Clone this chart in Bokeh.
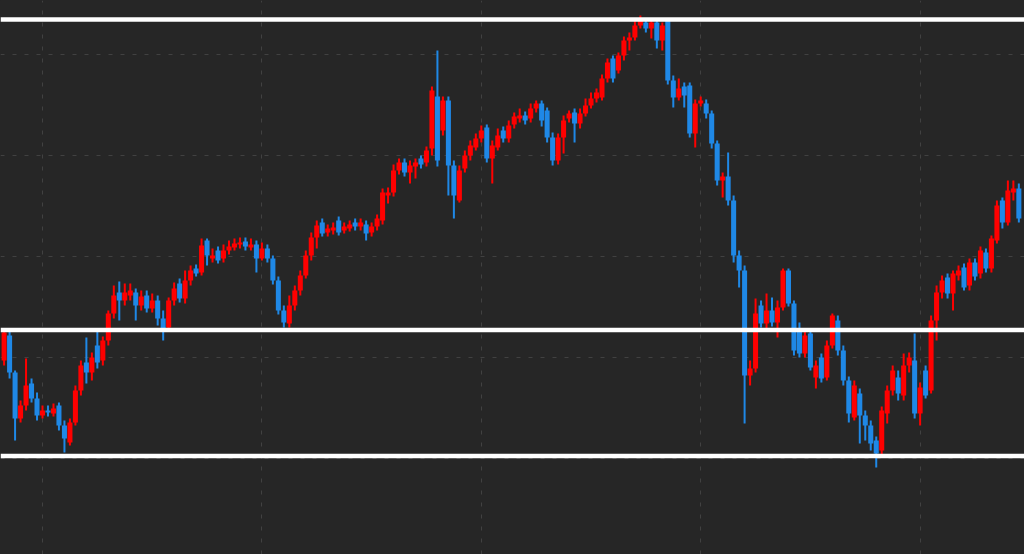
from bokeh.plotting import figure
from bokeh.models import ColumnDataSource, Range1d, FixedTicker, Span, GlobalInlineStyleSheet
from bokeh.embed import file_html
from bokeh.resources import INLINE

# bar index (x) and OHLC values (price points)
bar_index = list(range(-7, 179))

open_ = [194, 219, 182, 136, 149, 171, 156, 139, 144, 141, 149, 129, 112, 132, 164, 192, 182, 209, 194, 214,
         241, 262, 254, 259, 262, 249, 259, 246, 254, 236, 227, 254, 271, 256, 274, 286, 282, 314, 296, 304,
         296, 304, 307, 310, 313, 307, 310, 296, 306, 296, 274, 244, 231, 249, 264, 279, 299, 317, 332, 322,
         324, 334, 324, 326, 332, 328, 330, 322, 328, 334, 359, 362, 384, 392, 382, 388, 396, 392, 406, 458,
         424, 454, 389, 354, 386, 399, 407, 416, 427, 396, 407, 424, 416, 430, 436, 439, 436, 446, 451, 444,
         417, 394, 417, 436, 442, 431, 441, 449, 456, 457, 476, 496, 484, 499, 514, 517, 529, 532, 526, 532,
         514, 534, 474, 457, 468, 469, 421, 451, 451, 441, 411, 374, 378, 354, 299, 284, 179, 186, 249, 231,
         244, 232, 247, 284, 251, 226, 201, 221, 177, 197, 177, 209, 234, 204, 174, 137, 161, 139, 129, 114,
         104, 141, 164, 177, 159, 189, 194, 141, 184, 164, 234, 262, 277, 261, 279, 287, 269, 292, 281, 302,
         286, 314, 354, 332, 362, 366]
high = [226, 224, 184, 154, 196, 176, 162, 149, 149, 151, 152, 134, 136, 169, 194, 217, 202, 224, 218, 244,
        269, 273, 271, 271, 266, 264, 264, 261, 259, 244, 257, 272, 276, 284, 289, 290, 316, 316, 306, 308,
        310, 314, 316, 317, 317, 316, 314, 312, 310, 299, 278, 249, 259, 269, 284, 304, 322, 334, 336, 330,
        332, 338, 332, 334, 336, 336, 334, 332, 340, 366, 367, 390, 396, 396, 394, 396, 399, 408, 468, 504,
        458, 458, 394, 389, 404, 414, 421, 429, 430, 414, 426, 428, 434, 442, 446, 443, 451, 454, 454, 447,
        422, 421, 439, 444, 446, 446, 456, 462, 466, 480, 496, 499, 502, 518, 522, 534, 539, 536, 536, 536,
        532, 536, 479, 476, 472, 472, 455, 458, 455, 444, 414, 382, 402, 359, 304, 289, 194, 256, 254, 261,
        257, 254, 286, 286, 254, 232, 224, 226, 194, 201, 214, 241, 239, 209, 178, 174, 166, 144, 134, 118,
        148, 169, 189, 184, 201, 202, 221, 172, 189, 239, 269, 279, 281, 284, 289, 291, 296, 296, 308, 306,
        319, 354, 357, 374, 374, 371]
low = [189, 176, 114, 132, 144, 152, 134, 136, 138, 138, 124, 102, 109, 129, 159, 171, 174, 186, 189, 209,
       236, 234, 249, 254, 234, 244, 242, 242, 229, 214, 224, 249, 252, 251, 269, 278, 279, 289, 292, 291,
       292, 300, 304, 306, 304, 304, 282, 294, 292, 270, 240, 227, 227, 244, 259, 276, 294, 306, 318, 318,
       320, 319, 321, 323, 324, 324, 314, 318, 324, 330, 351, 358, 380, 378, 371, 376, 386, 388, 399, 388,
       419, 359, 336, 352, 382, 394, 404, 412, 392, 371, 404, 412, 412, 426, 432, 430, 432, 442, 428, 412,
       389, 390, 401, 432, 412, 426, 438, 446, 452, 454, 472, 472, 481, 494, 504, 514, 526, 522, 516, 506,
       504, 470, 447, 454, 447, 417, 407, 448, 436, 406, 369, 357, 349, 292, 267, 131, 169, 182, 227, 226,
       228, 217, 244, 248, 199, 197, 197, 184, 166, 172, 174, 206, 199, 169, 132, 134, 111, 114, 104, 87,
       99, 131, 159, 154, 154, 182, 136, 129, 156, 161, 214, 256, 256, 244, 274, 264, 264, 274, 276, 282,
       282, 311, 326, 329, 354, 332]
close = [222, 182, 136, 149, 169, 156, 139, 144, 142, 146, 129, 116, 132, 164, 189, 182, 197, 192, 214, 241,
         259, 254, 262, 264, 249, 258, 246, 254, 236, 224, 254, 266, 256, 274, 284, 281, 309, 299, 299, 294,
         304, 308, 311, 312, 308, 310, 296, 306, 296, 274, 244, 232, 249, 264, 279, 299, 317, 329, 321, 326,
         327, 322, 328, 330, 328, 332, 321, 328, 336, 362, 362, 384, 392, 382, 389, 392, 390, 404, 464, 394,
         454, 389, 359, 384, 399, 409, 416, 424, 396, 409, 419, 416, 429, 438, 439, 434, 446, 451, 434, 417,
         394, 417, 434, 441, 431, 441, 449, 456, 462, 476, 492, 476, 499, 514, 517, 529, 534, 526, 532, 514,
         529, 474, 457, 466, 459, 421, 451, 454, 441, 411, 374, 378, 354, 299, 284, 179, 186, 241, 231, 244,
         232, 247, 284, 251, 204, 201, 219, 187, 189, 176, 209, 239, 204, 174, 141, 169, 139, 129, 111, 101,
         144, 164, 184, 161, 189, 197, 141, 167, 159, 234, 262, 274, 261, 281, 284, 267, 292, 278, 304, 286,
         316, 349, 332, 364, 366, 336]

# horizontal level lines (price points)
levels = [535, 224.5, 98.5]

UP = "#ff0000"
DOWN = "#1f88e6"
colors = [UP if c >= o else DOWN for o, c in zip(open_, close)]
src = ColumnDataSource(dict(
    x=bar_index, open=open_, high=high, low=low, close=close,
    top=[max(o, c) for o, c in zip(open_, close)],
    bottom=[min(o, c) for o, c in zip(open_, close)],
    color=colors,
))

p = figure(width=1024, height=554, output_backend="svg", toolbar_location=None,
           x_range=Range1d(-7.657, 179.03), y_range=Range1d(0, 554),
           min_border=0, min_border_left=0, min_border_right=0,
           min_border_top=0, min_border_bottom=0)
p.stylesheets = [GlobalInlineStyleSheet(css="html, body {margin:0; padding:0; overflow:hidden; background:#262626;}")]
p.background_fill_color = "#262626"
p.border_fill_color = "#262626"
p.outline_line_color = None

p.xaxis.ticker = FixedTicker(ticks=[0, 40, 80, 120, 160])
p.yaxis.ticker = FixedTicker(ticks=[96, 197, 298, 399, 500])
p.axis.visible = False
p.grid.grid_line_color = "#414141"
p.grid.grid_line_width = 1
p.grid.grid_line_dash = "4 8"

p.segment(x0="x", y0="low", x1="x", y1="high", color="color", line_width=2, source=src)
p.vbar(x="x", width=0.92, top="top", bottom="bottom", fill_color="color", line_color=None, source=src)

for lv in levels:
    p.add_layout(Span(location=lv, dimension="width", line_color="#ffffff", line_width=4.5))

open("out.html", "w").write(file_html(p, INLINE))
